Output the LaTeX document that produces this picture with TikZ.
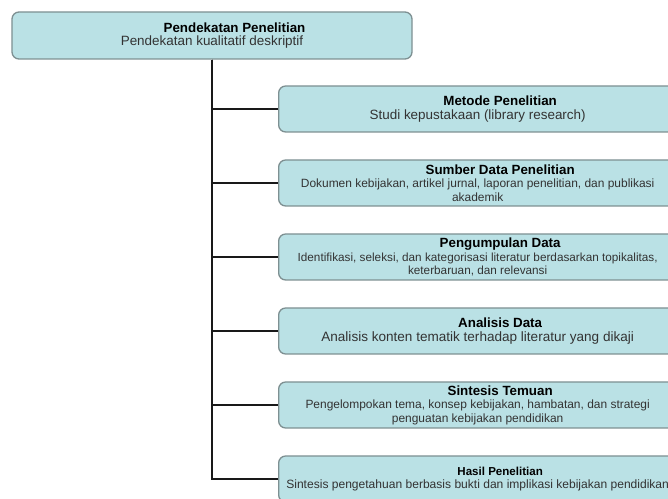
\documentclass[tikz,border=0pt]{standalone}
\usepackage{fontspec}
\setmainfont{Liberation Sans}
\usepackage{xcolor}
\usetikzlibrary{positioning}

\definecolor{boxfill}{RGB}{186,225,229}
\definecolor{boxline}{RGB}{126,144,146}

\tikzset{
  stepbox/.style={draw=boxline, line width=1.3bp, fill=boxfill, rounded corners=7bp,
    align=center, text=black!80, inner sep=2bp, minimum height=46bp, minimum width=398bp, anchor=west},
  link/.style={line width=2.8bp, black!90}
}
\newcommand{\hd}[2][13.4]{\hspace*{45bp}{\fontsize{#1}{15}\selectfont\bfseries\color{black}#2}}
\newcommand{\bodysize}[1]{\fontsize{#1}{13.5}\selectfont}

\begin{document}
\begin{tikzpicture}[x=1bp, y=1bp]
 \clip (0,0) rectangle (668,499);

 % top box
 \node[stepbox, anchor=center, minimum width=400bp, minimum height=47bp, font=\bodysize{13.5}] (appr) at (212,463.5)
   {\hd{Pendekatan Penelitian}\\ Pendekatan kualitatif deskriptif};

 % steps
 \node[stepbox, font=\bodysize{13.5}] (metode) at (278,390)
   {\hd{Metode Penelitian}\\ Studi kepustakaan (library research)};
 \node[stepbox, font=\bodysize{12}] (sumber) at (278,316)
   {\hd{Sumber Data Penelitian}\\ Dokumen kebijakan, artikel jurnal, laporan penelitian, dan publikasi\\ akademik};
 \node[stepbox, font=\bodysize{11.8}] (kumpul) at (278,242)
   {\hd{Pengumpulan Data}\\ Identifikasi, seleksi, dan kategorisasi literatur berdasarkan topikalitas,\\ keterbaruan, dan relevansi};
 \node[stepbox, font=\bodysize{13.6}] (analisis) at (278,168)
   {\hd{Analisis Data}\\ Analisis konten tematik terhadap literatur yang dikaji};
 \node[stepbox, font=\bodysize{12}] (sintesis) at (278,94)
   {\hd{Sintesis Temuan}\\ Pengelompokan tema, konsep kebijakan, hambatan, dan strategi\\ penguatan kebijakan pendidikan};
 \node[stepbox, font=\bodysize{12.1}] (hasil) at (278,20)
   {\hd[11.6]{Hasil Penelitian}\\ Sintesis pengetahuan berbasis bukti dan implikasi kebijakan pendidikan};

 % lines
 \foreach \dest in {metode, sumber, kumpul, analisis, sintesis, hasil}
   \draw[link] (appr.south) |- (\dest.west);

\end{tikzpicture}
\end{document}
